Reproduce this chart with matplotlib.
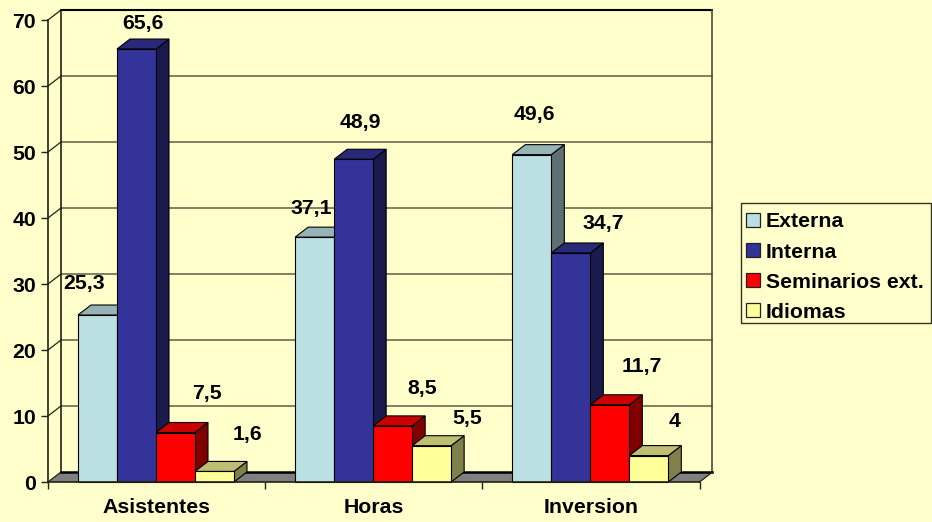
import matplotlib
matplotlib.use("Agg")
import matplotlib.pyplot as plt
from matplotlib.patches import Patch, Rectangle

categories = ["Asistentes", "Horas", "Inversion"]
series_names = ["Externa", "Interna", "Seminarios ext.", "Idiomas"]
externa = [25.3, 37.1, 49.6]
interna = [65.6, 48.9, 34.7]
seminarios = [7.5, 8.5, 11.7]
idiomas = [1.6, 5.5, 4]
value_labels = [["25,3", "37,1", "49,6"], ["65,6", "48,9", "34,7"],
                ["7,5", "8,5", "11,7"], ["1,6", "5,5", "4"]]
y_ticks = [0, 10, 20, 30, 40, 50, 60, 70]

# label offsets from each bar's top centre, in pixels
label_offsets = [[(-13, 32), (-3, 29), (3, 40)],
                 [(6, 26), (7, 37), (32, 29)],
                 [(31, 39), (30, 37), (32, 38)],
                 [(33, 37), (36, 27), (26, 34)]]

face = ["#BBE0E3", "#333399", "#FF0000", "#FFFF99"]
top = ["#96B3B6", "#29297A", "#CC0000", "#BFBF73"]
side = ["#5E7072", "#1A1A4D", "#800000", "#80804D"]
bg = "#FFFFCC"
grid = "#6B6B4F"

W, H = 932, 522
plt.rcParams["font.family"] = ["Liberation Sans", "DejaVu Sans"]
plt.rcParams["font.weight"] = "bold"
plt.rcParams["font.size"] = 15.3

fig = plt.figure(figsize=(W / 100, H / 100), dpi=100, facecolor=bg)
ax = fig.add_axes([48 / W, (H - 482) / H, 651.5 / W, 462 / H], facecolor="none")
ax.set_xlim(0, 3)
ax.set_ylim(0, 70)

px_x = 3 / 651.5
px_y = 70 / 462
dx = 13 * px_x
dy = 10 * px_y

# walls and floor
ax.fill([0, 3, 3 + dx, dx], [0, 0, dy, dy], color="#808080", lw=0, clip_on=False, zorder=1)
for v in y_ticks[1:-1]:
    ax.plot([dx, 3 + dx], [v + dy, v + dy], color=grid, lw=1.2, clip_on=False, zorder=1)
for v in y_ticks:
    ax.plot([0, dx], [v, v + dy], color="#222211", lw=0.9, clip_on=False, zorder=1)
ax.plot([dx, dx], [dy, 70 + dy], color="#222211", lw=1.2, clip_on=False, zorder=1)
ax.plot([dx, 3 + dx], [70 + dy, 70 + dy], color="black", lw=1.5, clip_on=False, zorder=1)
ax.plot([3 + dx, 3 + dx], [dy, 70 + dy], color="#4A4A38", lw=1.2, clip_on=False, zorder=1)
ax.plot([dx, 3 + dx], [dy, dy], color="black", lw=1.8, clip_on=False, zorder=1)
ax.plot([3, 3 + dx], [0, dy], color="#222211", lw=0.9, clip_on=False, zorder=1)

# bars
bar_w = 39 / 217.17
group_shift = -0.6 * px_x
series = [externa, interna, seminarios, idiomas]
z = 2
for ci in range(len(categories)):
    for si, values in enumerate(series):
        v = values[ci]
        x0 = ci + 0.5 + group_shift + (si - 2) * bar_w
        x1 = x0 + bar_w
        ax.fill([x1, x1 + dx, x1 + dx, x1], [0, dy, v + dy, v], facecolor=side[si],
                edgecolor="black", lw=0.8, clip_on=False, zorder=z)
        ax.fill([x0, x1, x1 + dx, x0 + dx], [v, v, v + dy, v + dy], facecolor=top[si],
                edgecolor="black", lw=0.8, clip_on=False, zorder=z)
        ax.bar(x0, v, bar_w, align="edge", color=face[si], edgecolor="black", lw=0.8,
               clip_on=False, zorder=z + 0.5)
        z += 1

for si, values in enumerate(series):
    for ci, v in enumerate(values):
        x = ci + 0.5 + group_shift + (si - 1.5) * bar_w
        ax.annotate(value_labels[si][ci], (x, v), xytext=label_offsets[si][ci],
                    textcoords="offset pixels", ha="center", va="center",
                    color="black", zorder=100, annotation_clip=False)

# axes
for s in ("top", "right"):
    ax.spines[s].set_visible(False)
for s in ("left", "bottom"):
    ax.spines[s].set_color("#222211")
    ax.spines[s].set_linewidth(1.2)
    ax.spines[s].set_zorder(50)
ax.set_yticks(y_ticks)
ax.tick_params(axis="y", length=5, width=1, pad=3.5, color="#222211")
ax.set_xticks(range(len(categories) + 1))
ax.set_xticklabels([])
ax.tick_params(axis="x", which="major", length=5, width=1, color="#222211")
ax.set_xticks([i + 0.5 for i in range(len(categories))], categories, minor=True)
ax.tick_params(axis="x", which="minor", length=0, pad=11.2)

# legend: the frame is drawn on its own so the rows can sit lower inside it
fig.add_artist(Rectangle((741 / W, 1 - 322.7 / H), 189.8 / W, 120.2 / H, transform=fig.transFigure,
                         facecolor=bg, edgecolor="#333322", lw=1.0, zorder=5))
handles = [Patch(facecolor=f, edgecolor="#222222", lw=0.9, label=n) for f, n in zip(face, series_names)]
leg = fig.legend(handles=handles, loc="upper left", bbox_to_anchor=(740.5 / W, 1 - 206.5 / H),
                 bbox_transform=fig.transFigure, borderaxespad=0, frameon=False,
                 handlelength=0.62, handleheight=0.62,
                 handletextpad=0.3, labelspacing=0.52, borderpad=0.28)
leg.set_zorder(6)

fig.savefig("out.png", dpi=100, facecolor=bg)
